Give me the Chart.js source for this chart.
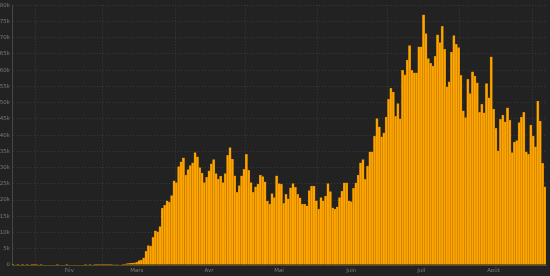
<!DOCTYPE html>
<html><head><meta charset="utf-8">
<script src="https://cdn.jsdelivr.net/npm/chart.js@4.4.1/dist/chart.umd.min.js"></script>
<style>html,body{margin:0;padding:0;background:#222222;}canvas{display:block;}</style>
</head><body>
<canvas id="c" width="550" height="276"></canvas>
<script>
// Daily new cases, in thousands, from 22 Jan 2020
const startDate = [2020, 0, 22];
const casesJanFeb = [0.001,0,0.001,0,0.003,0,0.001,0,0.001,0.001, 0.001,0,0.003,0,0,0,0,0,0,0.001, 0,0,0,0.001,0,0,0,0,0,0, 0,0.002,0,0.001,0,0.003,0.001,0.004,0.012];
const casesMar = [0.02,0.025,0.025,0.03,0.06,0.08,0.1,0.12,0.17,0.28,0.4, 0.5,0.6,0.7,0.8,1.4,1.5,2.2,4.2,6.0,5.8,8.5,10.5,10.2,11.8,17.5,18.4,19.8,19.4,21.4,25.9];
const casesApr = [25.4,30.3,31.8,33.0,27.7,29.4,30.6,31.5,34.6,33.3, 30.0,28.3,25.4,27.0,29.0,31.2,32.5,28.2,26.5,27.4, 25.4,28.2,33.8,36.2,32.6,27.5,22.4,24.5,27.5,29.5];
const casesMay = [34.1,29.2,25.4,22.4,24.1,24.9,27.7,27.2,25.6,19.7, 18.8,22.0,20.8,27.5,25.1,24.9,19.0,21.8,20.4,23.8, 25.1,23.9,21.8,20.7,18.8,18.8,18.2,22.9,24.3,24.3, 19.8];
const casesJun = [17.2,20.8,19.8,21.2,25.1,22.6,17.6,17.2,17.9,20.8, 22.8,25.3,25.3,19.8,19.5,23.6,25.3,27.7,31.5,32.5, 26.4,30.5,34.9,34.9,39.7,45.1,42.6,39.5,40.7,45.6];
const casesJul = [51.0,54.4,53.3,45.8,49.7,45.0,60.0,58.6,63.1,67.6, 60.0,59.2,59.2,67.2,67.2,77.1,71.3,63.6,62.1,61.3, 64.3,70.9,68.5,73.5,66.4,54.9,56.4,65.6,70.7,68.0, 67.0];
const casesAug = [58.4,47.5,45.4,57.2,52.8,59.5,58.2,56.1,47.0,49.5, 46.9,55.9,51.5,64.1,48.0,42.1,35.2,44.9,46.2,44.1, 48.4,44.6,34.6,37.9,38.3,43.9,45.6,47.0,34.9,34.1, 43.1];
const casesSep = [39.7,36.4,50.5,44.3,31.3,24.1];
const monthNames = ['Janv','Fév','Mars','Avr','Mai','Juin','Juil','Août','Sept','Oct','Nov','Déc'];
const yTicks = [0,5,10,15,20,25,30,35,40,45,50,55,60,65,70,75,80];

const cases = [].concat(casesJanFeb, casesMar, casesApr, casesMay, casesJun, casesJul, casesAug, casesSep);
const dates = cases.map((_, i) => new Date(startDate[0], startDate[1], startDate[2] + i));

new Chart(document.getElementById('c'), {
  type: 'bar',
  data: {
    labels: dates.map(d => d.toISOString().slice(0,10)),
    datasets: [{
      data: cases,
      backgroundColor: '#ffa500',
      borderColor: '#b87600',
      borderWidth: {top: 0.5, left: 0.5, right: 0.5, bottom: 0},
      barPercentage: 1,
      categoryPercentage: 1
    }]
  },
  options: {
    responsive: false,
    animation: false,
    devicePixelRatio: 1,
    layout: {padding: {top: 5, right: 4, left: 0, bottom: 0}},
    plugins: {legend: {display: false}, tooltip: {enabled: false}},
    scales: {
      x: {
        afterFit: s => { s.height = 11; },
        border: {display: true, color: '#5c4a24', dash: [1, 2]},
        grid: {
          drawTicks: false,
          color: ctx => { const d = dates[ctx.index]; return d && d.getDate() === 1 ? '#3a3a3a' : 'rgba(0,0,0,0)'; }
        },
        ticks: {
          autoSkip: false, maxRotation: 0, minRotation: 0, padding: 2,
          color: '#7a7a7a', font: {family: 'DejaVu Sans', size: 5.5},
          callback: (v, i) => dates[i].getDate() === 15 ? monthNames[dates[i].getMonth()] : ''
        }
      },
      y: {
        min: 0, max: 80,
        afterFit: s => { s.width = 12; },
        afterBuildTicks: s => { s.ticks = yTicks.map(v => ({value: v})); },
        border: {display: true, color: '#474747', dash: [1, 2]},
        grid: {drawTicks: false, color: '#383838'},
        ticks: {
          padding: 2, color: '#7a7a7a', font: {family: 'DejaVu Sans', size: 5.5},
          callback: v => v === 0 ? '0' : v + 'k'
        }
      }
    }
  }
});
</script>
</body></html>
